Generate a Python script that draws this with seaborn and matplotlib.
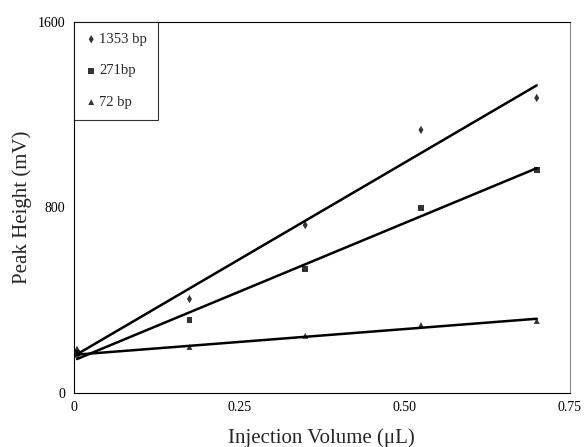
import matplotlib
matplotlib.use("Agg")
import matplotlib.pyplot as plt
import seaborn as sns
import pandas as pd
import numpy as np

volumes = [0.005, 0.175, 0.35, 0.525, 0.70]
peak_1353 = [185, 405, 724, 1134, 1272]
peak_271 = [172, 315, 534, 797, 961]
peak_72 = [164, 198, 246, 293, 310]
series_labels = ["1353 bp", "271bp", "72 bp"]
markers = ["d", "s", "^"]
x_ticks = [0, 0.25, 0.50, 0.75]
x_ticklabels = ["0", "0.25", "0.50", "0.75"]
y_ticks = [0, 800, 1600]

sns.set_theme(style="white")
plt.rcParams['font.family'] = ['Liberation Serif', 'DejaVu Serif']
plt.rcParams['mathtext.fontset'] = 'stix'

fig = plt.figure(figsize=(5.85, 4.47), dpi=100)
ax = fig.add_axes([0.126, 0.121, 0.848, 0.830])

for vals, lab, mk in zip([peak_1353, peak_271, peak_72], series_labels, markers):
    df = pd.DataFrame({"x": volumes, "y": vals})
    sns.regplot(data=df, x="x", y="y", ax=ax, ci=None, marker=mk, label=lab,
                scatter_kws=dict(s=18, color="black", edgecolor="none"),
                line_kws=dict(color="black", lw=1.8))

ax.set_xlim(0, 0.75)
ax.set_ylim(0, 1600)
ax.set_xticks(x_ticks)
ax.set_xticklabels(x_ticklabels)
ax.set_yticks(y_ticks)
ax.tick_params(axis="both", length=0, labelsize=10, colors="black", pad=6)
ax.set_xlabel("Injection Volume (μL)", fontsize=15, labelpad=10)
ax.set_ylabel("Peak Height (mV)", fontsize=15, labelpad=4)
for s in ax.spines.values():
    s.set_color("black")
    s.set_linewidth(0.8)
ax.spines["right"].set_color("#888888")

handles, labels = ax.get_legend_handles_labels()
leg = ax.legend(handles[:3], labels[:3], loc="upper left", frameon=True, fontsize=10.5,
                handletextpad=0.1, borderaxespad=0.0, markerscale=1.0, handlelength=0.9,
                labelspacing=1.25, borderpad=0.75, fancybox=False)
leg.get_frame().set_edgecolor("black")
leg.get_frame().set_linewidth(0.8)

fig.savefig("out.png", dpi=100)
